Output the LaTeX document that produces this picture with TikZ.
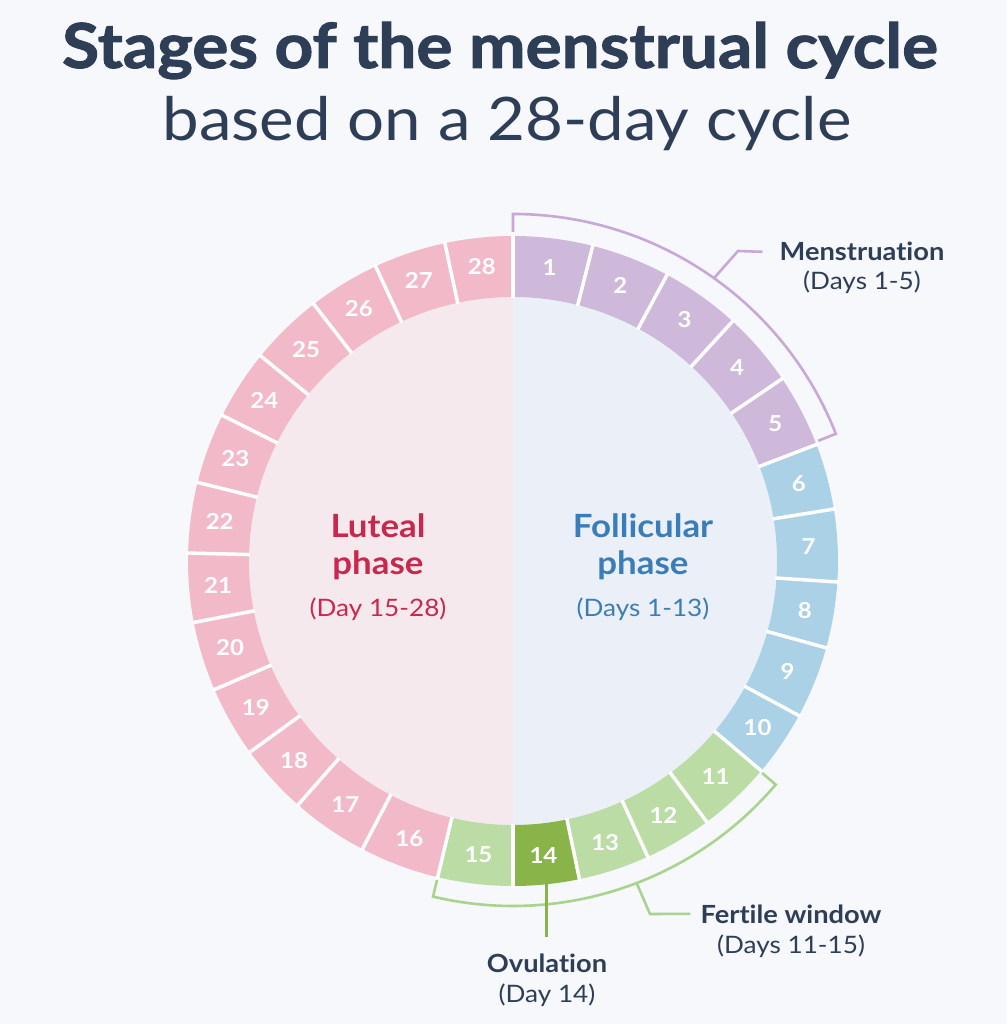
\documentclass[tikz,border=0pt]{standalone}
\usepackage{fontspec}
\setmainfont{Lato}[FakeStretch=1.09,Ligatures=NoCommon]
\newfontfamily\titlefont{Lato}[FakeStretch=1.09,Ligatures=NoCommon,BoldFeatures={FakeBold=1.6}]
\usepackage{xcolor}
\definecolor{bgpage}{HTML}{F6F8FB}
\definecolor{navy}{HTML}{2F3E57}
\definecolor{pinkseg}{HTML}{F2BAC9}
\definecolor{pinkdisk}{HTML}{F6E9ED}
\definecolor{bluedisk}{HTML}{EBF0F8}
\definecolor{blueseg}{HTML}{AAD1E5}
\definecolor{purpseg}{HTML}{CFB9DB}
\definecolor{greenseg}{HTML}{BBDCA5}
\definecolor{greendark}{HTML}{88B44A}
\definecolor{purpbr}{HTML}{C8A8D8}
\definecolor{greenbr}{HTML}{A9D48E}
\definecolor{luteal}{HTML}{C9284E}
\definecolor{follic}{HTML}{3B7DB6}
\tikzset{
  daynum/.style={text=white,font=\fontsize{22}{22}\selectfont\bfseries,inner sep=0pt},
  gap/.style={white,line width=3.5pt},
  bracket/.style={line width=2.6pt,line join=miter},
  phasehead/.style={font=\fontsize{32}{32}\selectfont\bfseries,anchor=base,inner sep=0pt},
  phasesub/.style={font=\fontsize{24}{24}\selectfont,anchor=base,inner sep=0pt},
  callhead/.style={navy,font=\fontsize{25}{25}\selectfont\bfseries,anchor=base,inner sep=0pt},
  callsub/.style={navy,font=\fontsize{24}{24}\selectfont,anchor=base,inner sep=0pt},
}

\begin{document}
\begin{tikzpicture}[x=1pt,y=1pt]
  % page: 1007 x 1024, origin at the centre of the ring
  \fill[bgpage](-513,-463)rectangle(494,561);
  \useasboundingbox(-513,-463)rectangle(494,561);

  % Title
  \node[navy,anchor=base,inner sep=0pt,font=\titlefont\fontsize{62}{62}\selectfont\bfseries]
    (title) at (-13,493) {Stages of the menstrual cycle};
  \node[navy,anchor=base,inner sep=0pt,font=\fontsize{60}{60}\selectfont]
    (subtitle) at (-6,420) {based on a 28-day cycle};

  % Inner disc, two halves
  \fill[pinkdisk](0,264)arc[start angle=90,end angle=270,radius=264]--cycle;
  \fill[bluedisk](0,-264)arc[start angle=-90,end angle=90,radius=264]--cycle;

  % Ring of days: day / start angle / end angle / colour
  \foreach \n/\a/\b/\c in {1/90/75.8/purpseg,2/75.8/61.7/purpseg,3/61.7/47.5/purpseg,
      4/47.5/34.1/purpseg,5/34.1/21/purpseg,6/21/9.2/blueseg,7/9.2/-3.7/blueseg,
      8/-3.7/-15.5/blueseg,9/-15.5/-28.4/blueseg,10/-28.4/-40.2/blueseg,
      11/-40.2/-53.4/greenseg,12/-53.4/-65.5/greenseg,13/-65.5/-78.2/greenseg,
      14/-78.2/-90/greendark,15/-90/-103.4/greenseg,16/-103.4/-117.6/pinkseg,
      17/-117.6/-131.4/pinkseg,18/-131.4/-144/pinkseg,19/-144/-156.7/pinkseg,
      20/-156.7/-169.1/pinkseg,21/-169.1/-181.4/pinkseg,22/-181.4/-194/pinkseg,
      23/-194/-206.6/pinkseg,24/-206.6/-219.1/pinkseg,25/-219.1/-232.2/pinkseg,
      26/-232.2/-245/pinkseg,27/-245/-257.9/pinkseg,28/-257.9/-270/pinkseg}{
    \fill[\c](\a:325)arc[start angle=\a,end angle=\b,radius=325]
      --(\b:264)arc[start angle=\b,end angle=\a,radius=264]--cycle;
    \node[daynum](d\n)at({(\a+\b)/2}:296){\n};
  }

  % White gaps between the days
  \foreach \b in {90,75.8,61.7,47.5,34.1,21,9.2,-3.7,-15.5,-28.4,-40.2,-53.4,
      -65.5,-78.2,-90,-103.4,-117.6,-131.4,-144,-156.7,-169.1,-181.4,-194,
      -206.6,-219.1,-232.2,-245,-257.9}{
    \draw[gap](\b:263)--(\b:327);
  }

  % Phase labels
  \node[phasehead,luteal](lut1)at(-135,23){Luteal};
  \node[phasehead,luteal](lut2)at(-135,-14){phase};
  \node[phasesub,luteal](lut3)at(-135,-56){(Day 15-28)};
  \node[phasehead,follic](fol1)at(130,23){Follicular};
  \node[phasehead,follic](fol2)at(130,-14){phase};
  \node[phasesub,follic](fol3)at(130,-56){(Days 1-13)};

  % Menstruation bracket and callout
  \draw[bracket,purpbr](90:329)--(90:347)arc[start angle=90,end angle=21.5,radius=347]
    --(21.5:328);
  \node[callhead](mens)at(349,300){Menstruation};
  \node[callsub](mensdays)at(349,271){(Days 1-5)};
  \coordinate(mensA)at(54.6:347);
  \coordinate(mensB)at(225,310);
  \draw[bracket,purpbr](mensA)--(mensB)--([xshift=-17pt]mens.west);

  % Fertile window bracket and callout
  \draw[bracket,greenbr](-40.4:327)--(-40.4:345)arc[start angle=-40.4,end angle=-103.4,radius=345]
    --(-103.4:328);
  \node[callhead](fert)at(278,-362){Fertile window};
  \node[callsub](fertdays)at(278,-392){(Days 11-15)};
  \coordinate(fertA)at(-69:345);
  \coordinate(fertB)at(137,-353);
  \draw[bracket,greenbr](fertA)--(fertB)--([xshift=-10pt]fert.west);

  % Ovulation marker
  \node[callhead,inner sep=16pt](ovul)at(34,-411){Ovulation};
  \node[callsub](ovuldays)at(34,-441){(Day 14)};
  \coordinate(ovtop)at(-84:325);
  \draw[greendark,line width=3pt](ovtop)--(ovtop|-ovul.north);
\end{tikzpicture}
\end{document}
